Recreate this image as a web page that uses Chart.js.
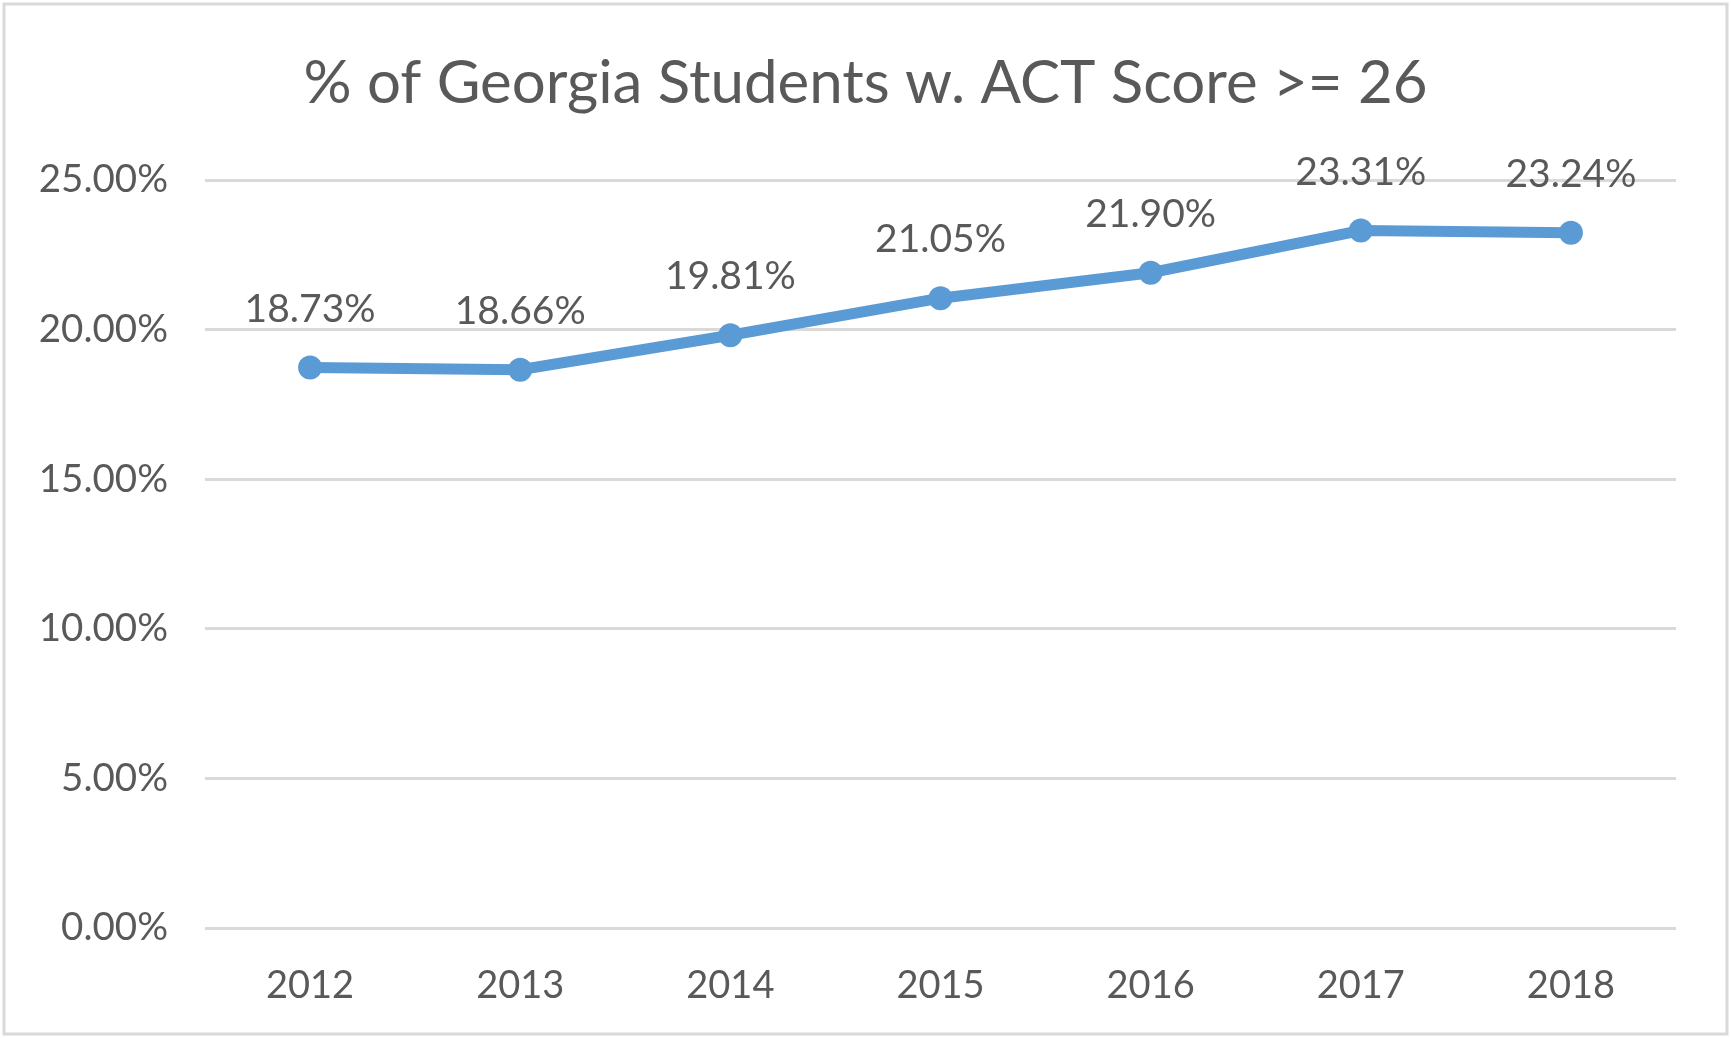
<!DOCTYPE html>
<html>
<head>
<meta charset="utf-8">
<script src="https://cdn.jsdelivr.net/npm/chart.js@4/dist/chart.umd.min.js"></script>
<style>
  html, body { margin: 0; padding: 0; background: #fff; }
  #wrap { width: 1731px; height: 1038px; }
</style>
</head>
<body>
<div id="wrap"><canvas id="myChart" width="1731" height="1038"></canvas></div>
<script>
const years = ['2012', '2013', '2014', '2015', '2016', '2017', '2018'];
const pctScores = [18.73, 18.66, 19.81, 21.05, 21.90, 23.31, 23.24];
const yTicks = [0, 5, 10, 15, 20, 25];
const chartTitle = '% of Georgia Students w. ACT Score >= 26';

const textColor = '#595959';
const lineColor = '#5b9bd5';
const fontFamily = 'Lato, "Open Sans", sans-serif';

// white background + thin frame like the excel chart area
var framePlugin = {
    id: 'frame',
    beforeDraw: function(chart) {
        var ctx = chart.ctx;
        ctx.save();
        ctx.fillStyle = '#fff';
        ctx.fillRect(0, 0, chart.width, chart.height);
        ctx.strokeStyle = '#d9d9d9';
        ctx.lineWidth = 3;
        ctx.strokeRect(4, 4, chart.width - 8, chart.height - 8);
        ctx.restore();
    }
};

// value labels above each point
var valueLabels = {
    id: 'valueLabels',
    afterDatasetsDraw: function(chart) {
        var ctx = chart.ctx;
        var meta = chart.getDatasetMeta(0);
        ctx.save();
        ctx.font = '39px ' + fontFamily;
        ctx.fillStyle = textColor;
        ctx.textAlign = 'center';
        ctx.textBaseline = 'alphabetic';
        meta.data.forEach(function(pt, i) {
            ctx.fillText(pctScores[i].toFixed(2) + '%', pt.x, pt.y - 46);
        });
        ctx.restore();
    }
};

var ctx = document.getElementById('myChart');
var myChart = new Chart(ctx, {
    type: 'line',
    data: {
        labels: years,
        datasets: [{
            data: pctScores,
            borderColor: lineColor,
            backgroundColor: lineColor,
            borderWidth: 11,
            pointRadius: 12,
            pointBorderWidth: 0,
            pointBackgroundColor: lineColor,
            tension: 0,
            clip: false
        }]
    },
    options: {
        responsive: false,
        animation: false,
        layout: { padding: 0 },
        plugins: {
            legend: { display: false },
            tooltip: { enabled: false },
            title: {
                display: true,
                text: chartTitle,
                color: textColor,
                font: { family: fontFamily, size: 60, weight: 'normal', lineHeight: 1.2 },
                padding: { top: 48, bottom: 60 }
            }
        },
        scales: {
            x: {
                offset: true,
                grid: { display: false },
                border: { display: false },
                ticks: {
                    color: textColor,
                    font: { family: fontFamily, size: 38 },
                    padding: 27,
                    maxRotation: 0
                },
                afterFit: function(scale) { scale.height = 110; }
            },
            y: {
                min: 0,
                max: 25,
                afterBuildTicks: function(scale) {
                    scale.ticks = yTicks.map(function(v) { return { value: v }; });
                },
                grid: { color: '#d9d9d9', lineWidth: 3, drawTicks: false },
                border: { display: false },
                ticks: {
                    color: textColor,
                    font: { family: fontFamily, size: 38.5 },
                    padding: 37,
                    callback: function(v) { return v.toFixed(2) + '%'; }
                },
                afterFit: function(scale) { scale.width = 205; }
            },
            // empty right-hand axis, only reserves the right margin
            yRight: {
                position: 'right',
                min: 0,
                max: 25,
                grid: { display: false },
                border: { display: false },
                ticks: { display: false },
                afterFit: function(scale) { scale.width = 55; }
            }
        }
    },
    plugins: [framePlugin, valueLabels]
});
</script>
</body>
</html>
